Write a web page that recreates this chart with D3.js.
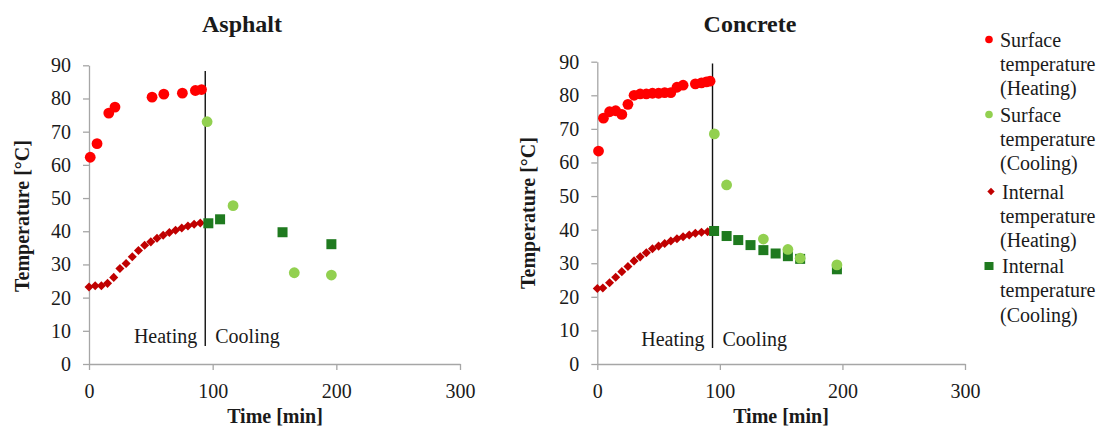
<!DOCTYPE html>
<html>
<head>
<meta charset="utf-8">
<script src="https://cdn.jsdelivr.net/npm/d3@7"></script>
<style>
  html, body { margin: 0; padding: 0; background: #fff; }
  svg { display: block; }
  text { font-family: "Liberation Serif", "Times New Roman", serif; fill: #1a1a1a; }
</style>
</head>
<body>
<svg id="chart" width="1102" height="428"></svg>
<script>
// ---------------- DATA ----------------
const chartTitles = ["Asphalt", "Concrete"];
const xTicks = [0, 100, 200, 300];
const yTicks = [0, 10, 20, 30, 40, 50, 60, 70, 80, 90];
const seriesNames = [
  ["Surface", "temperature", "(Heating)"],
  ["Surface", "temperature", "(Cooling)"],
  ["Internal", "temperature", "(Heating)"],
  ["Internal", "temperature", "(Cooling)"]
];
const phaseLabels = ["Heating", "Cooling"];
const phaseTime = [94, 94];           // vertical separator (min)
const phaseLineTop = [88.3, 89.5];    // separator extent (°C)
const phaseLineBottom = [5.4, 4.8];

// Asphalt
const aSurfHeatT = [1, 6.5, 16, 21, 51, 60.5, 75.5, 86, 91];
const aSurfHeatV = [62.3, 66.4, 75.6, 77.4, 80.4, 81.3, 81.6, 82.4, 82.7];
const aSurfCoolT = [95.5, 116.5, 166, 196];
const aSurfCoolV = [73.0, 47.7, 27.5, 26.8];
const aIntHeatT = [0, 5, 10, 15, 20, 25, 30, 35, 40, 45, 50, 55, 60, 65, 70, 75, 80, 85, 90];
const aIntHeatV = [23.2, 23.6, 23.6, 24.3, 26.1, 28.8, 30.3, 32.3, 34.2, 35.8, 36.8, 37.9, 38.8, 39.6, 40.3, 41.0, 41.6, 42.1, 42.5];
const aIntCoolT = [96.5, 106, 156.5, 196];
const aIntCoolV = [42.4, 43.6, 39.7, 36.1];

// Concrete
const cSurfHeatT = [1, 5, 10, 15, 20, 25, 30, 35, 40, 45, 50, 55, 60, 65, 70, 80, 85, 89, 92];
const cSurfHeatV = [63.4, 73.2, 75.1, 75.4, 74.3, 77.3, 80.0, 80.4, 80.4, 80.6, 80.6, 80.8, 80.8, 82.4, 83.0, 83.4, 83.7, 84.0, 84.2];
const cSurfCoolT = [95.5, 105.5, 135.5, 155.5, 165.5, 195.5];
const cSurfCoolV = [68.5, 53.3, 37.2, 34.1, 31.5, 29.5];
const cIntHeatT = [0, 4.5, 10, 15, 20, 25, 30, 35, 40, 45, 50, 55, 60, 65, 70, 75, 80, 85, 90];
const cIntHeatV = [22.5, 22.6, 24.2, 25.8, 27.5, 29.0, 30.7, 31.9, 33.1, 34.3, 35.1, 35.9, 36.6, 37.3, 37.9, 38.4, 38.9, 39.2, 39.4];
const cIntCoolT = [95.3, 105.5, 115, 125, 135.5, 145.5, 155.5, 165.5, 195.5];
const cIntCoolV = [39.6, 38.1, 36.9, 35.4, 33.9, 32.9, 32.1, 31.3, 28.2];

const colors = ["#ff0000", "#92d050", "#c00000", "#1f7a1f"];

// ---------------- LAYOUT ----------------
const panels = [
  { left: 89, right: 460, top: 65.3, bottom: 364, titleX: 242, yTitleX: 22, yTitleY: 216,
    sh: [aSurfHeatT, aSurfHeatV], sc: [aSurfCoolT, aSurfCoolV], ih: [aIntHeatT, aIntHeatV], ic: [aIntCoolT, aIntCoolV],
    labelBase: 343.3 },
  { left: 597.3, right: 965, top: 61.7, bottom: 364, titleX: 750, yTitleX: 528, yTitleY: 213,
    sh: [cSurfHeatT, cSurfHeatV], sc: [cSurfCoolT, cSurfCoolV], ih: [cIntHeatT, cIntHeatV], ic: [cIntCoolT, cIntCoolV],
    labelBase: 345.7 }
];

const svg = d3.select("#chart");
const zip = (t, v) => t.map((d, i) => [d, v[i]]);

panels.forEach((p, pi) => {
  const x = d3.scaleLinear().domain([0, 300]).range([p.left, p.right]);
  const y = d3.scaleLinear().domain([0, 90]).range([p.bottom, p.top]);
  const g = svg.append("g");

  // axes
  const xAxis = d3.axisBottom(x).tickValues(xTicks).tickSize(6).tickSizeOuter(0).tickPadding(14);
  const yAxis = d3.axisLeft(y).tickValues(yTicks).tickSize(6).tickSizeOuter(0).tickPadding(12);
  const gx = g.append("g").attr("transform", `translate(0,${p.bottom})`).call(xAxis);
  const gy = g.append("g").attr("transform", `translate(${p.left},0)`).call(yAxis);
  [gx, gy].forEach(a => {
    a.selectAll("path.domain").attr("stroke", "#a6a6a6").attr("stroke-width", 1.3);
    a.selectAll(".tick line").attr("stroke", "#a6a6a6").attr("stroke-width", 1.3);
    a.selectAll(".tick text").attr("font-family", "Liberation Serif, serif").attr("font-size", 20).attr("fill", "#1a1a1a");
  });

  // titles
  g.append("text").attr("x", p.titleX).attr("y", 32).attr("text-anchor", "middle")
    .attr("font-weight", "bold").attr("font-size", 24).text(chartTitles[pi]);
  g.append("text").attr("x", (x(0) + x(300)) / 2 - (pi === 0 ? 0 : 0) + (pi === 0 ? 0.5 : 0))
    .attr("x", pi === 0 ? 275 : 781).attr("y", 423).attr("text-anchor", "middle")
    .attr("font-weight", "bold").attr("font-size", 20).text("Time [min]");
  g.append("text").attr("transform", `translate(${p.yTitleX + 7},${p.yTitleY}) rotate(-90)`)
    .attr("text-anchor", "middle").attr("font-weight", "bold").attr("font-size", 20).text("Temperature [°C]");

  // phase separator
  const lx = x(phaseTime[pi]);
  g.append("line").attr("x1", lx).attr("x2", lx)
    .attr("y1", y(phaseLineTop[pi])).attr("y2", y(phaseLineBottom[pi]))
    .attr("stroke", "#111").attr("stroke-width", 1.4);
  g.append("text").attr("x", lx - 8).attr("y", p.labelBase).attr("text-anchor", "end")
    .attr("font-size", 20).text(phaseLabels[0]);
  g.append("text").attr("x", lx + 10).attr("y", p.labelBase).attr("text-anchor", "start")
    .attr("font-size", 20).text(phaseLabels[1]);

  // marks
  const ih = zip(p.ih[0], p.ih[1]);
  g.append("g").selectAll("rect").data(ih).join("rect")
    .attr("width", 6.4).attr("height", 6.4).attr("x", -3.2).attr("y", -3.2)
    .attr("transform", d => `translate(${x(d[0])},${y(d[1])}) rotate(45)`)
    .attr("fill", colors[2]);

  const ic = zip(p.ic[0], p.ic[1]);
  g.append("g").selectAll("rect").data(ic).join("rect")
    .attr("x", d => x(d[0]) - 5).attr("y", d => y(d[1]) - 5)
    .attr("width", 10).attr("height", 10).attr("fill", colors[3]);

  const sh = zip(p.sh[0], p.sh[1]);
  g.append("g").selectAll("circle").data(sh).join("circle")
    .attr("cx", d => x(d[0])).attr("cy", d => y(d[1])).attr("r", 5.4).attr("fill", colors[0]);

  const sc = zip(p.sc[0], p.sc[1]);
  g.append("g").selectAll("circle").data(sc).join("circle")
    .attr("cx", d => x(d[0])).attr("cy", d => y(d[1])).attr("r", 5.4).attr("fill", colors[1]);
});

// ---------------- LEGEND ----------------
const legY = [39.5, 114.5, 191.5, 266];
const lg = svg.append("g");
seriesNames.forEach((lines, i) => {
  const cy = legY[i];
  const mx = i === 2 ? 991 : 989;
  if (i < 2) {
    lg.append("circle").attr("cx", mx).attr("cy", cy).attr("r", 3.8).attr("fill", colors[i]);
  } else if (i === 2) {
    lg.append("rect").attr("x", -2.6).attr("y", -2.6).attr("width", 5.2).attr("height", 5.2)
      .attr("transform", `translate(${mx},${cy}) rotate(45)`).attr("fill", colors[i]);
  } else {
    lg.append("rect").attr("x", mx - 4.5).attr("y", cy - 4).attr("width", 9).attr("height", 8).attr("fill", colors[i]);
  }
  const tx = i >= 2 ? 1002 : 1000;
  lines.forEach((t, j) => {
    lg.append("text").attr("x", j === 0 ? tx : 1000).attr("y", cy + 7 + j * 24.3)
      .attr("font-size", 20).text(t);
  });
});
</script>
</body>
</html>
